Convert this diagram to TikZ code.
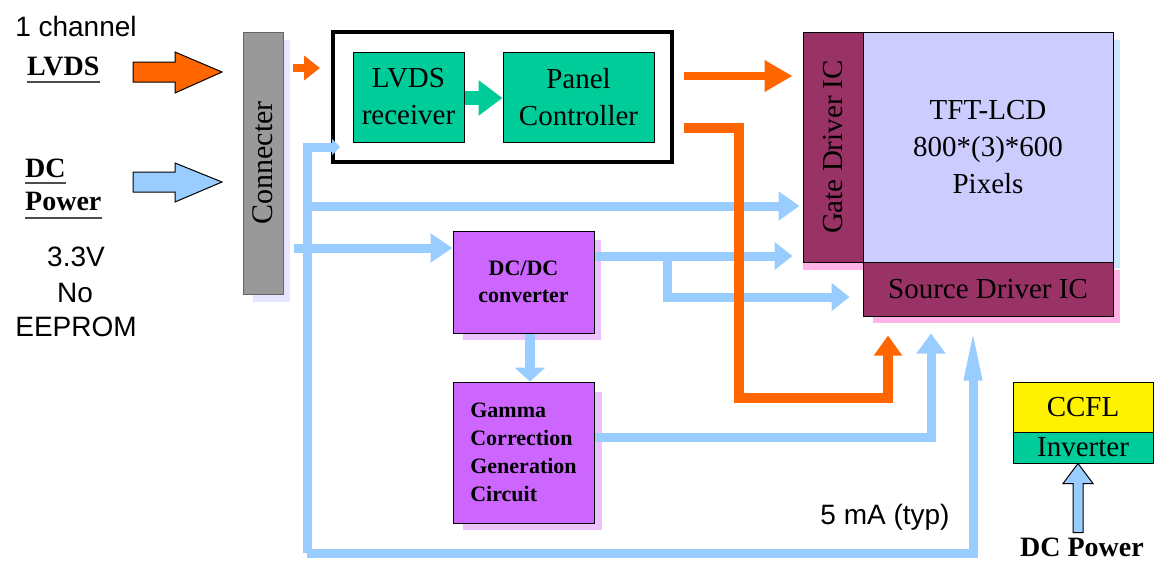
\documentclass[tikz,border=0pt]{standalone}
\usepackage{fontspec}
\setmainfont{Liberation Serif}
\setsansfont{Liberation Sans}
\usetikzlibrary{arrows.meta}
\usetikzlibrary{positioning}

\definecolor{orng}{HTML}{FF6600}
\definecolor{lblue}{HTML}{99CCFF}
\definecolor{tgreen}{HTML}{00CC99}
\definecolor{violet1}{HTML}{CC66FF}
\definecolor{maroon1}{HTML}{993366}
\definecolor{lav}{HTML}{CCCCFF}
\definecolor{conngray}{HTML}{999999}
\definecolor{pinksh}{HTML}{FFB3E6}
\definecolor{lavsh}{HTML}{E6E6FF}
\definecolor{bluesh}{HTML}{CCE6FF}
\definecolor{violetsh}{HTML}{EBC2FF}

\tikzset{
 box/.style={draw=black,line width=1pt,inner sep=0pt,align=center,font=\fontsize{29}{37}\selectfont},
 sans/.style={font=\sffamily\fontsize{28}{34}\selectfont},
 boldlbl/.style={inner sep=0pt,font=\bfseries\fontsize{28}{34}\selectfont},
 bwire/.style={draw=lblue,line width=9pt},
 owire/.style={draw=orng,line width=10pt},
 uline/.style={draw=black!70,line width=1.5pt}
}

\begin{document}
\begin{tikzpicture}[x=1pt,y=-1pt]
 \useasboundingbox (0,0) rectangle (1155,562);
 % shadows
 \fill[lavsh] (283,40) rectangle (290,302);
 \fill[lavsh] (253,294) rectangle (290,302);
 \fill[bluesh] (1113,40) rectangle (1120,268);
 \fill[pinksh] (803,262) rectangle (863,270);
 \fill[pinksh] (1113,270) rectangle (1120,323);
 \fill[pinksh] (873,316) rectangle (1120,323);
 \fill[violetsh] (594,240) rectangle (601,340);
 \fill[violetsh] (463,333) rectangle (601,340);
 \fill[violetsh] (594,392) rectangle (602,530);
 \fill[violetsh] (463,523) rectangle (602,530);

 % blocks
 \node[box,draw=black!60,fill=conngray,minimum width=40,minimum height=262] (conn) at (263,163) {};
 \node[rotate=90,font=\fontsize{30}{36}\selectfont] (connlbl) at (conn) {Connecter};
 \node[draw=black,line width=4pt,minimum width=339,minimum height=130] (ctrl) at (502.5,97) {};
 \node[box,fill=tgreen,minimum width=111,minimum height=90] (rx) at (408.5,97) {LVDS\\receiver};
 \node[box,fill=tgreen,minimum width=151,minimum height=90] (pc) at (578.5,97) {Panel\\Controller};
 \node[box,fill=maroon1,minimum width=60,minimum height=230] (gate) at (833,147) {};
 \node[rotate=90,font=\fontsize{29}{36}\selectfont] (gatelbl) at (gate) {Gate Driver IC};
 \node[box,fill=lav,minimum width=250,minimum height=230] (tft) at (988,147) {TFT-LCD\\800*(3)*600\\Pixels};
 \node[box,fill=maroon1,minimum width=250,minimum height=54] (src) at (988,289) {Source Driver IC};
 \node[box,fill=violet1,minimum width=141,minimum height=102,font=\bfseries\fontsize{22}{27}\selectfont] (dcdc) at (523.5,282) {DC/DC\\converter};
 \node[box,fill=violet1,minimum width=141,minimum height=141,align=left,font=\bfseries\fontsize{22}{28}\selectfont] (gamma) at (523.5,452.5) {Gamma\\Correction\\Generation\\Circuit};
 \node[box,fill=yellow,minimum width=140,minimum height=50] (ccfl) at (1083,407) {CCFL};
 \node[box,fill=tgreen,minimum width=140,minimum height=31] (inv) at (1083,447.5) {Inverter};

 % labels
 \node[sans] (chan) at (76,26) {1 channel};
 \node[boldlbl,anchor=base west] (lvdslbl) at (27,75) {LVDS};
 \node[boldlbl,anchor=base west] (dclbl) at (25,177) {DC};
 \node[boldlbl,anchor=base west] (pwrlbl) at (25,210) {Power};
 \draw[uline] ([yshift=-7pt]lvdslbl.base west) -- ([yshift=-7pt]lvdslbl.base east);
 \draw[uline] ([yshift=-6pt]dclbl.base west) -- ([yshift=-6pt]dclbl.base east);
 \draw[uline] ([yshift=-8pt]pwrlbl.base west) -- ([yshift=-8pt]pwrlbl.base east);
 \node[sans] (volt) at (76,257) {3.3V};
 \node[sans] (noee) at (75,293) {No};
 \node[sans] (eeprom) at (76,327) {EEPROM};
 \node[sans] (ma) at (885,517) {5 mA (typ)};
 \node[boldlbl] (dcpwr) at (1082,547) {DC Power};

 % input arrows
 \coordinate (lvdstip) at (222,72);
 \coordinate (dctip) at (222,182);
 \draw[line width=1pt,fill=orng] (lvdstip) -- ++(-47,-20) -- ++(0,10) -- ++(-42,0) -- ++(0,20) -- ++(42,0) -- ++(0,11) -- cycle;
 \draw[line width=1pt,fill=lblue] (dctip) -- ++(-47,-19) -- ++(0,9) -- ++(-42,0) -- ++(0,20) -- ++(42,0) -- ++(0,10) -- cycle;
 \draw[line width=1pt,fill=lblue] ([xshift=-5pt]inv.south) -- ++(15,20) -- ++(-10,0) -- ++(0,49) -- ++(-10,0) -- ++(0,-49) -- ++(-10,0) -- cycle;

 % power wires
 \coordinate (busb) at (307,553);
 \coordinate (bust) at (307,147);
 \coordinate (j1) at (307,206);
 \coordinate (j2) at (0,248);
 \coordinate (j3) at (0,256);
 \coordinate (br) at (667,256);
 \coordinate (j4) at (0,297);
 \coordinate (j5) at (0,437);
 \draw[bwire,-{Triangle[length=8pt,width=16pt]}] (busb) -- (bust) -- ([xshift=9pt]ctrl.west |- bust);
 \draw[bwire,-{Triangle[length=55pt,width=16pt]},shorten >=9pt] (busb) -| ([xshift=-15pt]src.south);
 \draw[bwire,-{Triangle[length=21pt,width=28pt]},shorten >=3pt] (j1) -- (gate.west |- j1);
 \draw[bwire,-{Triangle[length=22pt,width=28pt]},shorten <=10pt] (conn.east |- j2) -- (dcdc.west |- j2);
 \draw[bwire,-{Triangle[length=18pt,width=27pt]},shorten >=10pt] (dcdc.east |- j3) -- (gate.west |- j3);
 \draw[bwire,-{Triangle[length=18pt,width=27pt]},shorten >=13pt] (br) |- (src.west |- j4);
 \draw[bwire,line width=10pt,-{Triangle[length=14pt,width=30pt]}] ([xshift=6.5pt]dcdc.south) -- ([xshift=6.5pt]gamma.north);
 \draw[bwire,-{Triangle[length=20pt,width=28pt]},shorten >=17pt] (gamma.east |- j5) -| ([xshift=-57pt]src.south);

 % signal wires
 \coordinate (lv) at (0,68);
 \coordinate (g) at (0,98);
 \coordinate (o1) at (0,76);
 \coordinate (o2) at (0,128);
 \draw[orng,line width=8pt,-{Triangle[length=16pt,width=24pt]},shorten <=9pt,shorten >=11pt] (conn.east |- lv) -- (ctrl.west |- lv);
 \draw[tgreen,line width=14pt,-{Triangle[length=24pt,width=34pt]}] (rx.east |- g) -- (pc.west |- g);
 \draw[orng,line width=8pt,-{Triangle[length=28pt,width=30pt]},shorten <=29pt,shorten >=10pt] (pc.east |- o1) -- (gate.west |- o1);
 \draw[owire,-{Triangle[length=20pt,width=27pt]},shorten <=29pt,shorten >=19pt] (pc.east |- o2) -- (739,128) -- (739,398) -- (888,398) -- ([xshift=-100pt]src.south);
\end{tikzpicture}
\end{document}
